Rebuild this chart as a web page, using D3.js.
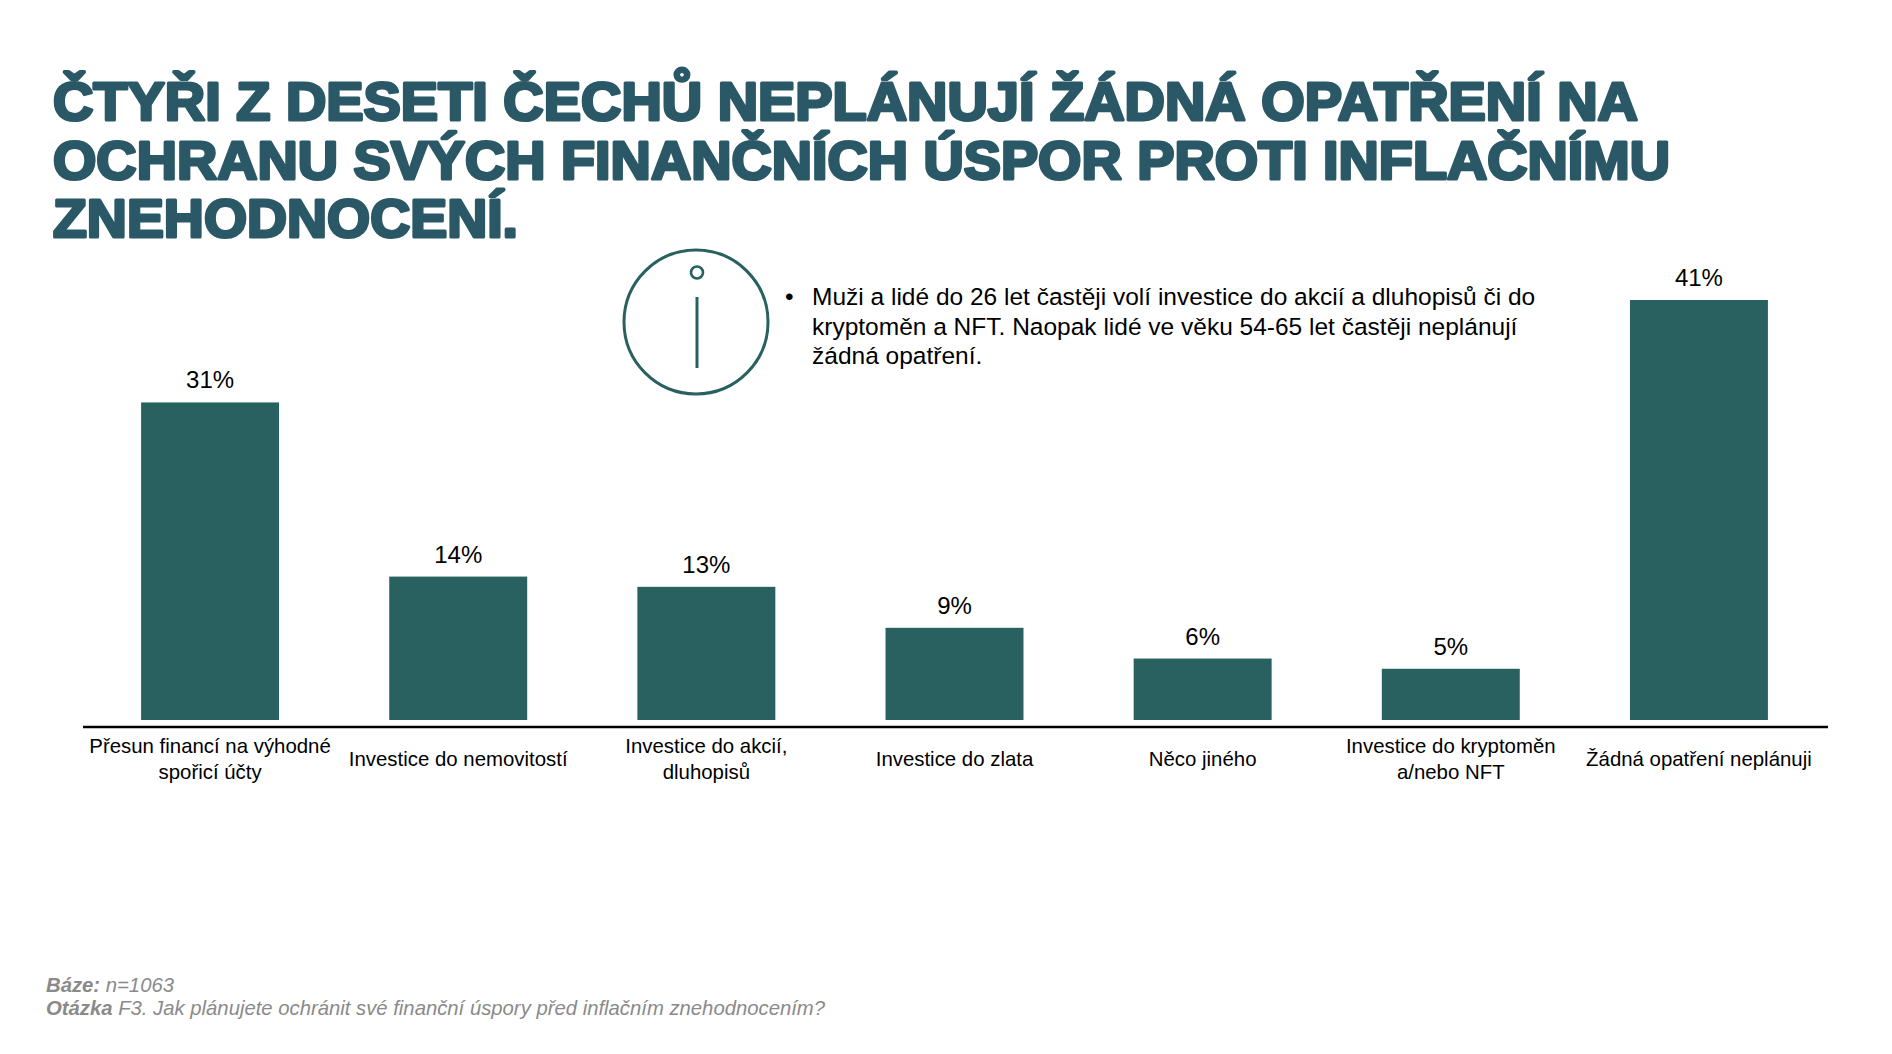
<!DOCTYPE html>
<html><head><meta charset="utf-8">
<script src="https://cdn.jsdelivr.net/npm/d3@7"></script>
<style>
html,body{margin:0;padding:0;background:#fff;}
svg{display:block;}
text{font-family:"Liberation Sans",Arial,sans-serif;}
</style></head>
<body>
<script>
const titleLines = [
  "ČTYŘI Z DESETI ČECHŮ NEPLÁNUJÍ ŽÁDNÁ OPATŘENÍ NA",
  "OCHRANU SVÝCH FINANČNÍCH ÚSPOR PROTI INFLAČNÍMU",
  "ZNEHODNOCENÍ."
];
const categories = [
  ["Přesun financí na výhodné", "spořicí účty"],
  ["Investice do nemovitostí"],
  ["Investice do akcií,", "dluhopisů"],
  ["Investice do zlata"],
  ["Něco jiného"],
  ["Investice do kryptoměn", "a/nebo NFT"],
  ["Žádná opatření neplánuji"]
];
const values = [31, 14, 13, 9, 6, 5, 41];
const valueLabels = ["31%", "14%", "13%", "9%", "6%", "5%", "41%"];
const infoLines = [
  "Muži a lidé do 26 let častěji volí investice do akcií a dluhopisů či do",
  "kryptoměn a NFT. Naopak lidé ve věku 54-65 let častěji neplánují",
  "žádná opatření."
];
const footBase = ["Báze:", " n=1063"];
const footQuestion = ["Otázka", " F3. Jak plánujete ochránit své finanční úspory před inflačním znehodnocením?"];

const W = 1892, H = 1054;
const titleColor = "#2a5866", barColor = "#296060";

const svg = d3.select("body").append("svg").attr("width", W).attr("height", H);

// Title
const titleWidths = [1585, 1617, 465];
svg.append("g").selectAll("text").data(titleLines).join("text")
  .attr("x", 53).attr("y", (d, i) => 120 + i * 58.5)
  .attr("font-size", 53).attr("font-weight", 700)
  .attr("fill", titleColor).attr("stroke", titleColor).attr("stroke-width", 3)
  .attr("stroke-linejoin", "round")
  .attr("textLength", (d, i) => titleWidths[i]).attr("lengthAdjust", "spacingAndGlyphs")
  .text(d => d);

// Scales
const idx = d3.range(categories.length);
const x = d3.scaleBand().domain(idx).range([86, 1823]).paddingInner(0.444).paddingOuter(0.222);
const y = d3.scaleLinear().domain([0, 41]).range([720, 300]);

// Bars
svg.append("g").selectAll("rect").data(values).join("rect")
  .attr("x", (d, i) => x(i)).attr("width", x.bandwidth())
  .attr("y", d => y(d)).attr("height", d => y(0) - y(d))
  .attr("fill", barColor);

// Value labels
svg.append("g").selectAll("text").data(values).join("text")
  .attr("x", (d, i) => x(i) + x.bandwidth() / 2)
  .attr("y", d => y(d) - 14)
  .attr("text-anchor", "middle").attr("font-size", 24).attr("fill", "#000")
  .text((d, i) => valueLabels[i]);

// Axis line
svg.append("line").attr("x1", 83).attr("x2", 1828).attr("y1", 727).attr("y2", 727)
  .attr("stroke", "#000").attr("stroke-width", 2.5);

// Category labels
const cat = svg.append("g").selectAll("text").data(categories).join("text")
  .attr("text-anchor", "middle").attr("font-size", 20.4).attr("fill", "#000");
cat.each(function (lines, i) {
  const cx = x(i) + x.bandwidth() / 2;
  const y0 = lines.length === 1 ? 766 : 753;
  d3.select(this).selectAll("tspan").data(lines).join("tspan")
    .attr("x", cx).attr("y", (d, j) => y0 + j * 26).text(d => d);
});

// Info icon
const icon = svg.append("g").attr("fill", "none").attr("stroke", barColor);
icon.append("circle").attr("cx", 696).attr("cy", 322).attr("r", 72).attr("stroke-width", 3);
icon.append("circle").attr("cx", 697).attr("cy", 272.5).attr("r", 6).attr("stroke-width", 2.6);
icon.append("line").attr("x1", 697).attr("x2", 697).attr("y1", 297).attr("y2", 368)
  .attr("stroke-width", 3);

// Info text
svg.append("text").attr("x", 785).attr("y", 305).attr("font-size", 24.5).text("•");
svg.append("g").selectAll("text").data(infoLines).join("text")
  .attr("x", 812).attr("y", (d, i) => 305 + i * 29.5).attr("font-size", 24.5).attr("fill", "#000")
  .text(d => d);

// Footer
const foot = svg.append("g").attr("font-size", 20.3).attr("font-style", "italic").attr("fill", "#8a8a8a");
[footBase, footQuestion].forEach((parts, i) => {
  const t = foot.append("text").attr("x", 46).attr("y", 992 + i * 23);
  t.append("tspan").attr("font-weight", 700).text(parts[0]);
  t.append("tspan").text(parts[1]);
});
</script>
</body></html>
